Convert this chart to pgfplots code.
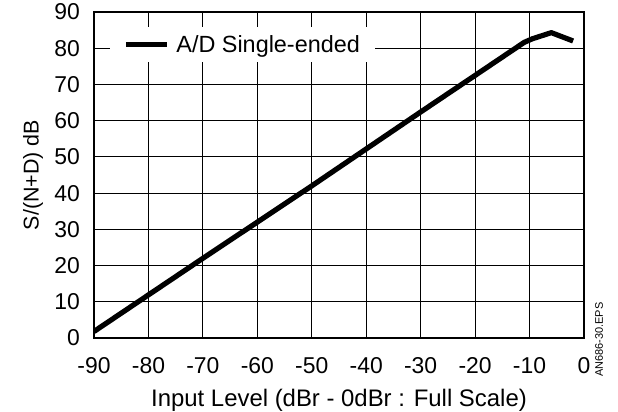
\documentclass[border=0pt]{standalone}
\usepackage{pgfplots}
\pgfplotsset{compat=1.18}
\usepackage{fontspec}
\setmainfont{Liberation Sans}
\newcommand\tickfont{\fontsize{23}{26}\selectfont}
\begin{document}
\begin{tikzpicture}
\useasboundingbox (-94bp,-74bp) rectangle (524bp,338bp);
\begin{axis}[
  scale only axis,
  clip mode=individual,
  width=490bp, height=326bp,
  xmin=-90, xmax=0, ymin=0, ymax=90,
  xtick={-90,-80,...,0}, ytick={0,10,...,90},
  xticklabel={\tickfont\pgfmathprintnumber[assume math mode=true]{\tick}},
  yticklabel={\tickfont\pgfmathprintnumber[assume math mode=true]{\tick}},
  grid=major,
  major grid style={black, line width=0.8bp},
  axis line style={black, line width=1.2bp},
  tick style={draw=none},
  tick label style={inner sep=0pt},
  yticklabel style={xshift=-14bp},
  xticklabel style={yshift=-19bp},
  xlabel={Input Level (dBr - 0dBr : Full Scale)},
  ylabel={S/(N+D) dB},
  xlabel style={font=\fontsize{24}{27}\selectfont, at={(axis description cs:0.5,-0.209)}, anchor=base},
  ylabel style={font=\fontsize{21.5}{24}\selectfont, at={(axis description cs:-0.1245,0.5)}, anchor=center},
  legend style={at={(axis description cs:0.0327,0.954)}, anchor=north west, draw=none, fill=white,
    font=\fontsize{23.5}{26}\selectfont, inner xsep=13bp, inner ysep=6bp,
    /tikz/every odd column/.append style={column sep=5bp}},
  legend cell align=left,
  legend image code/.code={\draw[line width=5.2bp] (0bp,0bp) -- (41bp,0bp);},
]
\addplot[black, line width=5.2bp, line join=round] coordinates {
  (-90,1.8) (-80,11.9) (-70,22) (-60,32) (-50,42) (-40,52.2) (-30,62.4) (-20,72.5) (-11,81.6) (-9.5,82.6) (-6,84.3) (-2,82)
};
\addlegendentry{A/D Single-ended}
\node[rotate=90, anchor=west, font=\fontsize{11}{12}\selectfont, inner sep=0pt] at (rel axis cs:1.031,-0.12) {AN686-30.EPS};
\end{axis}
\end{tikzpicture}
\end{document}
